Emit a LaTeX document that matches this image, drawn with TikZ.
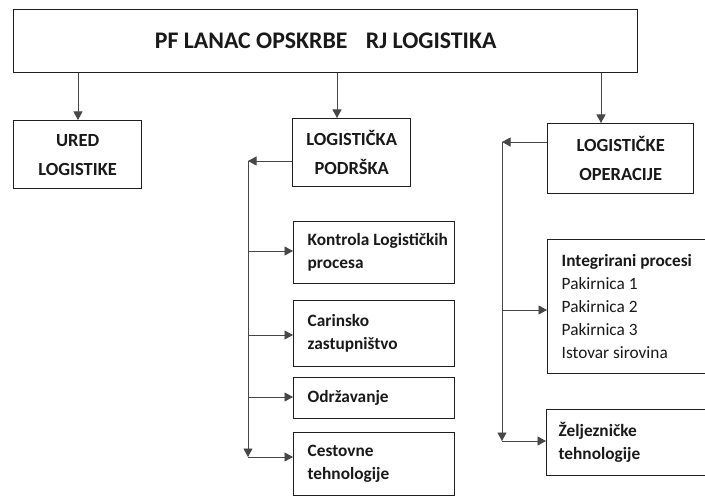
\documentclass[tikz,border=0pt]{standalone}
\usepackage{fontspec}
\setmainfont{Carlito}
\usetikzlibrary{arrows.meta}
\newcommand{\lpad}{\hspace*{14pt}}
\tikzset{
  frame/.style={draw=black!88, line width=1.4pt, inner sep=0pt, text=black!90},
  hbox/.style={frame, anchor=north west, align=center, font=\bfseries\fontsize{18.5}{29}\selectfont},
  cbox/.style={frame, anchor=north west, align=flush left, font=\fontsize{17.3}{23}\selectfont},
  conn/.style={draw=black!72, line width=0.9pt},
  arr/.style={conn, -{Triangle[length=8.5pt,width=9pt]}}
}
\begin{document}
\begin{tikzpicture}[x=1pt,y=-1pt]
\useasboundingbox (0,0) rectangle (705,497);
\clip (0,0) rectangle (705,497);
\fill[white] (0,0) rectangle (705,497);

% boxes
\node[hbox, minimum width=624pt, minimum height=63pt, font=\bfseries\fontsize{23.8}{28}\selectfont] (top) at (13,9) {PF LANAC OPSKRBE\hspace{13pt} RJ LOGISTIKA};
\node[hbox, minimum width=128pt, minimum height=68pt] (ured) at (13,120) {URED\\LOGISTIKE};
\node[hbox, minimum width=118pt, minimum height=68pt] (podr) at (292,118) {LOGISTIČKA\\PODRŠKA};
\node[hbox, minimum width=146pt, minimum height=70pt] (oper) at (547,123) {LOGISTIČKE\\OPERACIJE};

\node[cbox, text width=161pt, minimum height=62pt] (kontrola) at (293,221) {\lpad\textbf{Kontrola Logističkih}\\\lpad\textbf{procesa}};
\node[cbox, text width=161pt, minimum height=66pt] (carinsko) at (293,300) {\lpad\textbf{Carinsko}\\\lpad\textbf{zastupništvo}};
\node[cbox, text width=161pt, minimum height=41pt] (odrz) at (293,377) {\lpad\textbf{Održavanje}};
\node[cbox, text width=161pt, minimum height=63pt] (cestovne) at (293,432) {\lpad\textbf{Cestovne}\\\lpad\textbf{tehnologije}};

\node[cbox, text width=165pt, minimum height=134pt] (integr) at (547,239) {\lpad\textbf{Integrirani procesi}\\\lpad Pakirnica 1\\\lpad Pakirnica 2\\\lpad Pakirnica 3\\\lpad Istovar sirovina};
\node[cbox, text width=165pt, minimum height=66pt] (zelj) at (546,409) {\hspace*{12pt}\textbf{Željezničke}\\\hspace*{12pt}\textbf{tehnologije}};

% top-level connectors
\coordinate (a1) at (78,0);
\coordinate (a2) at (337,0);
\coordinate (a3) at (601,0);
\draw[arr] (top.south -| a1) -- (ured.north -| a1);
\draw[arr] (top.south -| a2) -- (podr.north -| a2);
\draw[arr] (top.south -| a3) -- (oper.north -| a3);

% middle branch
\coordinate (ml) at (248,161);
\coordinate (mb) at (248,457);
\coordinate (m1) at (248,251);
\coordinate (m2) at (248,335);
\coordinate (m3) at (248,397);
\draw[arr] (podr.west |- ml) -- (ml);
\draw[arr] (ml) -- (mb);
\draw[arr] (m1) -- (m1 -| kontrola.west);
\draw[arr] (m2) -- (m2 -| carinsko.west);
\draw[arr] (m3) -- (m3 -| odrz.west);
\draw[arr] (mb) -- (mb -| cestovne.west);

% right branch
\coordinate (rl) at (502,142);
\coordinate (rb) at (502,441);
\coordinate (r1) at (502,310);
\draw[arr] (oper.west |- rl) -- (rl);
\draw[arr] (rl) -- (rb);
\draw[arr] (r1) -- (r1 -| integr.west);
\draw[arr] (rb) -- (rb -| zelj.west);
\end{tikzpicture}
\end{document}
